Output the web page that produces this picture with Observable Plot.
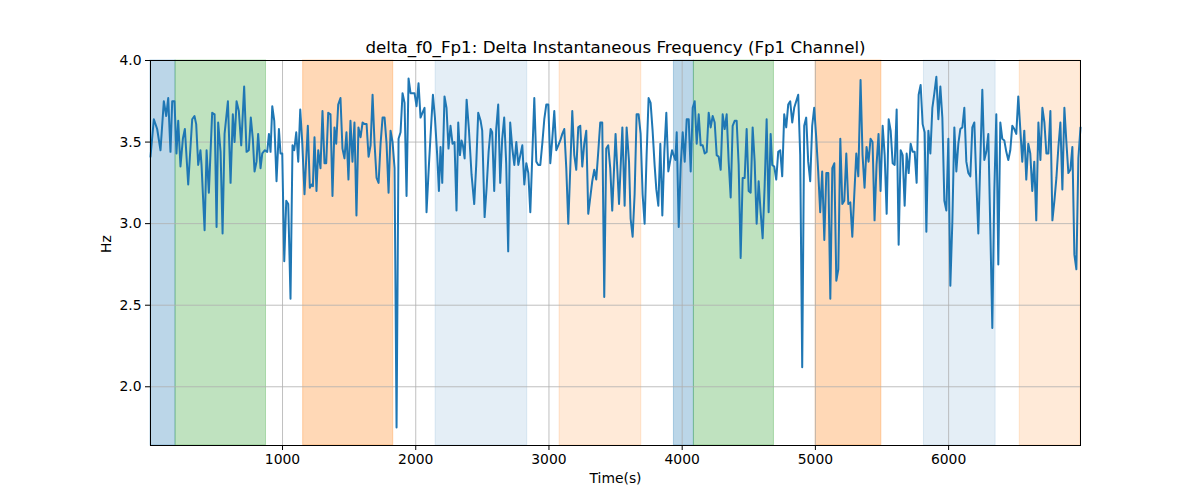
<!DOCTYPE html>
<html>
<head>
<meta charset="utf-8">
<script src="https://cdn.jsdelivr.net/npm/d3@7"></script>
<script src="https://cdn.jsdelivr.net/npm/@observablehq/plot@0.6"></script>
<style>
  html, body { margin: 0; padding: 0; background: #fff; }
  #chart svg { display: block; }
</style>
</head>
<body>
<div id="chart"></div>
<script>
const titleText = "delta_f0_Fp1: Delta Instantaneous Frequency (Fp1 Channel)";
const xLabel = "Time(s)";
const yLabel = "Hz";
const xTicks = [1000, 2000, 3000, 4000, 5000, 6000];
const yTicks = [2.0, 2.5, 3.0, 3.5, 4.0];

const times = [
  9,34,59,84,109,127,142,159,172,189,204,217,234,252,267,292,322,339,352,367,384,392,415,430,447,472,490,505,517,535,550,565,590,610,627,640,655,672,690,712,730,747,762,777,790,805,817,835,848,868,885,898,910,923,938,955,973,985,998,1013,1028,1043,1060,1075,1088,1103,1118,1133,1148,1165,
  1190,1205,1218,1228,1240,1255,1268,1285,1300,1315,1328,1343,1360,1375,1390,1403,1418,1435,1450,1465,1480,1495,1510,1525,1540,1555,1570,1586,1601,1616,1631,1646,1661,1676,1691,1706,1721,1736,1751,1766,1781,1796,1811,1826,1841,1856,1871,1886,1901,1916,1931,1946,1961,1976,1991,2006,2021,2036,2051,2066,2081,2099,2114,2129,2144,2161,2174,2186,2199,2216,2231,2246,2261,2276,2291,2306,
  2319,2332,2344,2354,2367,2382,2399,2419,2439,2454,2469,2487,2499,2517,2532,2547,2562,2574,2589,2604,2619,2634,2649,2664,2679,2694,2709,2725,2740,2755,2770,2785,2800,2815,2830,2845,2860,2875,2890,2905,2920,2935,2950,2965,2980,2995,3010,3025,3040,3055,3070,3085,3100,3115,3130,3145,3160,3175,3190,3205,3220,3235,3250,3265,3280,3295,3310,3325,3340,3355,3370,3385,3400,3415,3430,3445,3460,3475,
  3500,3526,3551,3568,3583,3601,3613,3628,3643,3658,3673,3688,3703,3718,3733,3748,3763,3778,3793,3806,3821,3836,3851,3866,3881,3896,3911,3924,3936,3949,3959,3974,3989,4004,4019,4034,4049,4064,4079,4094,4109,4124,4139,4154,4169,4184,4199,4214,4229,4244,4259,4274,4289,4304,4319,4334,4349,4364,4379,4394,4409,4424,4439,4454,4469,4484,4499,4514,4529,4544,4559,4574,4589,4604,4619,4634,4649,4664,
  4676,4691,4706,4721,4736,4751,4766,4781,4796,4811,4826,4841,4856,4871,4886,4901,4916,4931,4946,4961,4976,4991,5006,5021,5036,5051,5067,5082,5097,5112,5127,5142,5157,5172,5187,5202,5217,5232,5247,5262,5277,5292,5307,5322,5339,5354,5369,5384,5399,5414,5429,5444,5459,5474,5489,5505,5520,5535,5550,5565,5580,5595,5610,5625,5640,5655,5670,5685,5700,5715,5730,5745,5760,5775,5790,5805,5820,
  5833,5848,5863,5878,5893,5908,5923,5938,5953,5968,5983,5998,6013,6028,6043,6058,6073,6088,6103,6118,6133,6148,6163,6178,6193,6208,6223,6238,6253,6268,6283,6298,6313,6328,6343,6358,6373,6388,6403,6418,6433,6448,6463,6478,6493,6508,6523,6538,6553,6568,6583,6598,6613,6628,6643,6658,6674,6689,6704,6719,6734,6749,6764,6779,6794,6809,6824,6839,6854,6869,6884,6899,6914,6929,6944,6959,6974,6990
];

const values = [
  3.41,3.64,3.58,3.45,3.75,3.66,3.77,3.44,3.75,3.75,3.43,3.63,3.35,3.52,3.58,3.24,3.64,3.66,3.61,3.36,3.45,3.36,2.96,3.45,3.19,3.68,3.67,2.98,3.62,3.44,2.94,3.55,3.75,3.25,3.67,3.50,3.75,3.69,3.48,3.84,3.44,3.45,3.65,3.52,3.32,3.38,3.55,3.34,3.43,3.45,3.44,3.55,3.44,3.72,3.63,3.26,3.58,3.43,3.43,2.77,3.14,3.12,2.54,3.48,3.45,3.56,3.38,3.70,3.50,3.18,
  3.60,3.22,3.24,3.23,3.53,3.20,3.45,3.34,3.69,3.37,3.37,3.68,3.67,3.17,3.59,3.49,3.73,3.77,3.46,3.40,3.56,3.27,3.63,3.38,3.62,3.05,3.59,3.53,3.62,3.61,3.61,3.41,3.48,3.79,3.49,3.28,3.25,3.49,3.65,3.65,3.49,3.19,3.57,3.50,3.34,1.75,3.52,3.56,3.80,3.74,3.17,3.89,3.80,3.80,3.80,3.72,3.86,3.65,3.68,3.71,3.07,3.36,3.58,3.79,3.65,3.42,3.20,3.47,3.25,3.78,3.71,3.46,3.60,3.49,3.50,3.08,
  3.62,3.42,3.51,3.48,3.40,3.76,3.58,3.30,3.12,3.36,3.68,3.63,3.57,3.04,3.22,3.44,3.58,3.56,3.20,3.58,3.73,3.25,3.52,3.65,3.37,2.83,3.62,3.46,3.36,3.50,3.36,3.42,3.48,3.24,3.37,3.31,3.07,3.42,3.77,3.38,3.36,3.36,3.49,3.64,3.73,3.73,3.37,3.52,3.69,3.45,3.48,3.51,3.55,3.58,3.34,3.00,3.34,3.69,3.42,3.33,3.59,3.60,3.35,3.49,3.57,3.06,3.16,3.26,3.33,3.27,3.44,3.62,3.62,2.55,3.46,3.48,3.34,3.08,
  3.55,3.12,3.59,3.11,3.59,3.38,3.03,2.92,3.18,3.67,3.67,3.55,3.18,3.00,3.42,3.77,3.74,3.57,3.36,3.21,3.11,3.49,3.05,3.44,3.68,3.32,3.39,3.45,3.42,3.39,3.56,2.98,3.36,3.56,3.38,3.64,3.64,3.32,3.71,3.75,3.49,3.67,3.48,3.48,3.43,3.44,3.68,3.59,3.66,3.62,3.42,3.41,3.33,3.67,3.58,3.67,3.38,3.16,3.60,3.63,3.63,3.36,2.79,3.28,3.28,3.58,3.20,3.19,3.59,3.38,3.00,3.26,3.07,2.91,3.23,3.64,3.07,3.55,
  3.36,3.35,3.27,3.44,3.45,3.29,3.67,3.59,3.73,3.75,3.62,3.71,3.75,3.79,3.42,2.12,3.60,3.65,3.38,3.26,3.60,3.71,3.53,3.32,3.07,3.32,2.90,3.31,3.31,2.54,3.34,3.37,2.65,2.72,3.52,3.12,3.14,3.43,3.12,3.13,2.92,3.18,3.43,3.29,3.88,3.42,3.22,3.47,3.38,3.52,3.50,3.02,3.36,3.55,3.20,3.60,3.42,3.06,3.64,3.57,3.37,3.36,3.70,2.87,3.45,3.42,3.11,3.43,3.31,3.49,3.44,3.44,3.25,3.79,3.85,3.61,3.56,
  2.95,3.57,3.43,3.71,3.80,3.90,3.64,3.84,3.65,3.14,3.08,3.52,2.62,3.01,3.59,3.32,3.49,3.58,3.59,3.71,3.38,3.31,3.29,3.59,3.62,3.26,2.94,3.39,3.82,3.39,3.44,3.55,2.97,2.36,3.20,3.67,2.75,3.62,3.52,3.51,3.44,3.39,3.45,3.60,3.58,3.55,3.78,3.58,3.38,3.57,3.27,3.49,3.43,3.20,3.38,3.02,3.62,3.39,3.71,3.62,3.43,3.43,3.69,3.02,3.14,3.28,3.47,3.62,3.21,3.71,3.50,3.31,3.33,3.47,2.81,2.72,3.40,3.59
];

const spanStart = [9, 197, 1155, 2149, 3080, 3938, 4088, 5002, 5815, 6534];
const spanEnd   = [197, 876, 1831, 2837, 3693, 4088, 4689, 5495, 6353, 6990];
const spanColor = ["#1f77b4", "#2ca02c", "#ff7f0e", "#1f77b4", "#ff7f0e", "#1f77b4", "#2ca02c", "#ff7f0e", "#1f77b4", "#ff7f0e"];
const spanAlpha = [0.3, 0.3, 0.3, 0.12, 0.16, 0.3, 0.3, 0.3, 0.12, 0.16];

const series = times.map((t, i) => ({t, v: values[i]}));
const spans = spanStart.map((s, i) => ({s, e: spanEnd[i], c: spanColor[i], a: spanAlpha[i]}));

const font = "DejaVu Sans, sans-serif";

const chart = Plot.plot({
  width: 1200,
  height: 500,
  marginLeft: 150,
  marginRight: 120,
  marginTop: 60,
  marginBottom: 55,
  style: {fontFamily: font, fontSize: "13.9px", color: "#000", background: "#fff"},
  x: {domain: [9, 6990]},
  y: {domain: [1.64, 4.0]},
  marks: [
    Plot.rect(spans, {x1: "s", x2: "e", fill: "c", fillOpacity: "a", stroke: "c", strokeOpacity: "a", strokeWidth: 1}),
    Plot.gridX(xTicks, {stroke: "#b0b0b0", strokeOpacity: 1, strokeWidth: 0.8}),
    Plot.gridY(yTicks, {stroke: "#b0b0b0", strokeOpacity: 1, strokeWidth: 0.8}),
    Plot.line(series, {x: "t", y: "v", stroke: "#1f77b4", strokeWidth: 2}),
    Plot.frame({stroke: "#000", strokeWidth: 1}),
    Plot.axisX(xTicks, {tickSize: 5, tickPadding: 4, tickFormat: d => String(d), label: null, fontSize: 13.9}),
    Plot.axisY(yTicks, {tickSize: 5, tickPadding: 4, tickFormat: d => d.toFixed(1), label: null, fontSize: 13.9}),
    Plot.text([titleText], {frameAnchor: "top", dy: -19, text: d => d, fontSize: 16.7, fill: "#000"}),
    Plot.text([xLabel], {frameAnchor: "bottom", dy: 37, text: d => d, fontSize: 13.9, fill: "#000"}),
    Plot.text([yLabel], {frameAnchor: "left", dx: -44, rotate: -90, text: d => d, fontSize: 13.9, fill: "#000"})
  ]
});
document.getElementById("chart").appendChild(chart);
</script>
</body>
</html>
